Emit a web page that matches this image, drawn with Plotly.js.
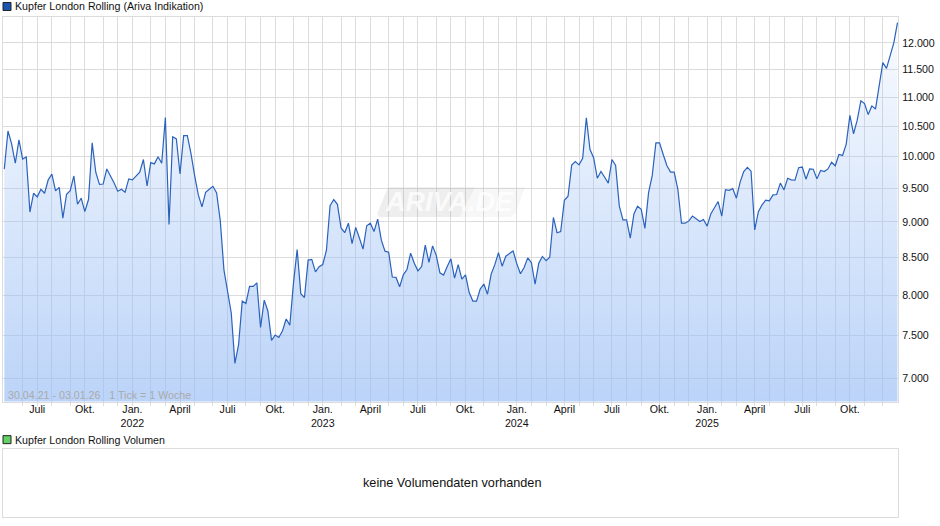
<!DOCTYPE html>
<html>
<head>
<meta charset="utf-8">
<script src="https://cdn.plot.ly/plotly-3.0.1.min.js"></script>
<style>html,body{margin:0;padding:0;background:#fff}#chart{width:940px;height:526px}</style>
</head>
<body>
<div id="chart"></div>
<script>
// Weekly closes (first week 30.04.21, last week 02.01.26)
var values2021 = [9797,10416,10203,9890,10270,9958,9990,9144,9425,9370,9485,9425,9630,9720,9460,9515,9055,9410,9465,9690,9260,9350,9150,9330,10220,9745,9560,9565,9800,9695,9580,9455,9485,9440,9645];
var values2022 = [9630,9690,9750,9950,9535,9900,9880,9995,9890,10644,8965,10320,10285,9720,10340,10340,10045,9695,9400,9220,9440,9485,9530,9430,9015,8333,8070,7775,7170,7388,7925,7895,8115,8115,8160,7595,7937,7800,7440,7505,7475,7557,7700,7625,8160,8610,8020,7970,8465,8475,8305,8375];
var values2023 = [8405,8600,9238,9330,9258,8913,8845,8982,8693,8922,8770,8615,8945,8982,8862,9040,8740,8587,8573,8237,8232,8110,8267,8338,8560,8421,8320,8377,8670,8434,8660,8530,8294,8263,8377,8482,8223,8403,8210,8267,8035,7925,7925,8080,8145,8013,8276,8403,8565,8382,8518,8560];
var values2024 = [8590,8417,8280,8364,8495,8430,8145,8421,8514,8456,8505,9065,8845,8862,9318,9380,9860,9917,9865,9970,10640,10110,9980,9655,9760,9670,9580,9950,9855,9235,9030,9030,8770,9115,9230,9185,8908,9435,9695,10220,10220,10030,9855,9750,9750,9485,8982,8982,9015,9085,9050,9005];
var values2025 = [9035,8940,9115,9215,9300,9085,9480,9470,9495,9350,9590,9760,9825,9765,8885,9150,9250,9320,9310,9400,9405,9580,9475,9655,9630,9625,9820,9830,9640,9800,9795,9645,9775,9760,9800,9905,9850,10030,10015,10200,10680,10370,10600,10935,10885,10695,10845,10790,11165,11625,11520,11770,12000,12397];
var yTickVals = [7000,7500,8000,8500,9000,9500,10000,10500,11000,11500,12000];
var yTickText = ['7.000','7.500','8.000','8.500','9.000','9.500','10.000','10.500','11.000','11.500','12.000'];
var quarterNames = {1:'Jan.',4:'April',7:'Juli',10:'Okt.'};
var seriesName = 'Kupfer London Rolling (Ariva Indikation)';
var volumeName = 'Kupfer London Rolling Volumen';
var noVolumeText = 'keine Volumendaten vorhanden';
var rangeText = '30.04.21 - 03.01.26   1 Tick = 1 Woche';

var FONT = '"Liberation Sans", Arial, sans-serif';
var TEXT = '#111';
var SIZE = 10.67;
var values = [].concat(values2021, values2022, values2023, values2024, values2025);
function iso(d){return d.toISOString().slice(0,10);}
var startMs = Date.UTC(2021,3,30), DAY = 86400000;
var dates = values.map(function(_,i){return iso(new Date(startMs+i*7*DAY));});

// one tick per month, on the weekly point whose Mon-Sun week holds the 1st
var tickVals = [], tickText = [];
for (var y=2021,m=5; y<2026; ){
  var first = new Date(Date.UTC(y,m-1,1));
  var dow = (first.getUTCDay()+6)%7;            // Monday=0
  var fri = new Date(first.getTime()+(4-dow)*DAY);
  if (fri.getTime()>startMs) {
    tickVals.push(iso(fri));
    var t = quarterNames[m] || '';
    if (m===1) t += '<br>'+y;
    tickText.push(t);
  }
  m++; if (m>12){m=1;y++;}
}

// pixel -> paper helpers for the page furniture
function px(x){return (x-3)/895;}
function py(y){return (517.5-y)/501;}
function poly(pts){return 'M'+pts.map(function(p){return px(p[0])+','+py(p[1]);}).join('L')+'Z';}
function label(x,y,text,opts){
  var o = {xref:'paper',yref:'paper',x:px(x),y:py(y),text:text,showarrow:false,xanchor:'left',yanchor:'middle',
           font:{family:FONT,size:SIZE,color:TEXT},borderpad:0,xshift:0};
  for (var k in opts) o[k]=opts[k];
  return o;
}
function square(x,y,fill){
  return {type:'rect',xref:'paper',yref:'paper',x0:px(x),x1:px(x+8),y0:py(y+8),y1:py(y),
          fillcolor:fill,line:{color:'#222',width:1},layer:'above'};
}

var trace = {
  x:dates,y:values,type:'scatter',mode:'lines',
  line:{color:'#2a62bd',width:1.2},
  fill:'tozeroy',
  fillcolor:'rgba(152,189,245,0.3)',
  fillgradient:{type:'vertical',start:6740,stop:12500,
    colorscale:[[0,'rgba(152,189,245,0.66)'],[1,'rgba(152,189,245,0.04)']]},
  hoverinfo:'skip',showlegend:false
};
var ghost = {x:[dates[0]],y:[1],xaxis:'x2',yaxis:'y2',type:'scatter',mode:'none',hoverinfo:'skip',showlegend:false};

var layout = {
  width:940,height:526,paper_bgcolor:'#fff',plot_bgcolor:'#fff',
  margin:{l:3,r:42,t:16.5,b:8.5,pad:0},
  font:{family:FONT,size:SIZE,color:TEXT},
  showlegend:false,
  xaxis:{type:'date',range:['2021-04-27 12:00','2026-01-03'],domain:[0,1],anchor:'y',
    tickmode:'array',tickvals:tickVals,ticktext:tickText,tickangle:0,
    showgrid:true,gridcolor:'#dcdcdc',gridwidth:1,zeroline:false,
    ticks:'outside',ticklen:3,tickcolor:'#dcdcdc',tickwidth:1,ticklabelstandoff:-5,
    showline:true,linecolor:'#dcdcdc',linewidth:1,mirror:true,
    tickfont:{family:FONT,size:SIZE,color:TEXT}},
  yaxis:{type:'log',range:[3.82887,4.09729],domain:[0.2309,1],anchor:'x',side:'right',
    tickmode:'array',tickvals:yTickVals,ticktext:yTickText,
    showgrid:true,gridcolor:'#dcdcdc',gridwidth:1,zeroline:false,ticks:'',
    ticklabelstandoff:1,showline:true,linecolor:'#dcdcdc',linewidth:1,mirror:true,
    tickfont:{family:FONT,size:SIZE,color:TEXT}},
  xaxis2:{domain:[0,1],anchor:'y2',range:[0,1],showgrid:false,zeroline:false,showticklabels:false,ticks:'',
    showline:true,linecolor:'#dcdcdc',linewidth:1,mirror:true},
  yaxis2:{domain:[0,0.1357],anchor:'x2',range:[0,1],showgrid:false,zeroline:false,showticklabels:false,ticks:'',
    showline:true,linecolor:'#dcdcdc',linewidth:1,mirror:true},
  shapes:[
    square(3,2,'#1a56b0'),
    square(3,436,'#63d063'),
    {type:'path',xref:'paper',yref:'paper',layer:'above',fillcolor:'rgba(120,120,120,0.13)',line:{width:0},
      path:poly([[388,187],[475,187],[460,217],[379,217],[377,214]])},
    {type:'path',xref:'paper',yref:'paper',layer:'above',fillcolor:'rgba(120,120,120,0.06)',line:{width:0},
      path:poly([[475,187],[525,187],[515,214],[510,217],[460,217]])}
  ],
  annotations:[
    label(13.5,5.2,seriesName),
    label(13.5,440,volumeName),
    label(451.5,483.6,noVolumeText,{xanchor:'center',font:{family:FONT,size:12.7,color:TEXT}}),
    label(7,395,rangeText,{font:{family:FONT,size:SIZE,color:'#aaa'}}),
    label(449,202,'<b><i>ARIVA.DE</i></b>',{xanchor:'center',font:{family:FONT,size:27,color:'rgba(255,255,255,0.75)'}})
  ]
};
Plotly.newPlot('chart',[trace,ghost],layout,{staticPlot:true,displayModeBar:false});
</script>
</body>
</html>
